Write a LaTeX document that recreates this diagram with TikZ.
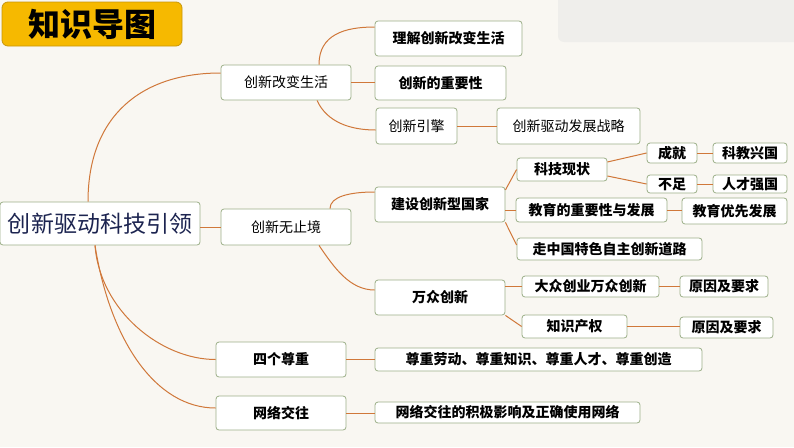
\documentclass[tikz,border=0pt]{standalone}
\usepackage{fontspec}
\setmainfont{Noto Sans CJK SC}
\definecolor{bgc}{RGB}{249,247,242}
\definecolor{grayc}{RGB}{239,238,235}
\definecolor{goldc}{RGB}{246,185,0}
\definecolor{goldline}{RGB}{200,150,10}
\definecolor{boxline}{RGB}{156,175,136}
\definecolor{linkc}{RGB}{208,120,58}
\definecolor{navyc}{RGB}{28,36,80}
\tikzset{
  box/.style={draw=boxline,fill=white,line width=0.8pt,rounded corners=3pt,
    inner sep=0pt,align=center,font=\fontsize{14}{16}\selectfont},
  bbox/.style={box,font=\fontsize{14}{16}\selectfont\bfseries},
  link/.style={draw=linkc,line width=1pt}
}
\begin{document}
\begin{tikzpicture}[x=1pt,y=-1pt,line join=round]
\useasboundingbox (0,0) rectangle (794,447);
\fill[bgc] (0,0) rectangle (794,447);
\fill[grayc,rounded corners=6pt] (558,-8) rectangle (810,42);

% title
\node[draw=goldline,fill=goldc,rounded corners=6pt,line width=0.8pt,minimum width=180pt,minimum height=44pt,
  font=\fontsize{32}{34}\selectfont\bfseries] (title) at (92,24) {知识导图};

% root and first level
\node[box,minimum width=200pt,minimum height=43pt,text=navyc,font=\fontsize{23}{25}\selectfont] (root) at (100,223.5) {创新驱动科技引领};
\node[box,minimum width=130pt,minimum height=35pt] (gai) at (286,82.5) {创新改变生活};
\node[box,minimum width=130pt,minimum height=36pt] (wu) at (286,227) {创新无止境};
\node[bbox,minimum width=130pt,minimum height=35pt] (zun) at (281,359.5) {四个尊重};
\node[bbox,minimum width=130pt,minimum height=34pt] (wang) at (281,413) {网络交往};

% second level
\node[bbox,minimum width=147pt,minimum height=35pt] (lijie) at (448.5,38.5) {理解创新改变生活};
\node[bbox,minimum width=131pt,minimum height=34pt] (zhongyao) at (440.5,83) {创新的重要性};
\node[box,minimum width=81pt,minimum height=36pt] (yinqing) at (416.5,126) {创新引擎};
\node[box,minimum width=143pt,minimum height=36pt] (zhanlue) at (568.5,126) {创新驱动发展战略};
\node[bbox,minimum width=130pt,minimum height=35pt] (jianshe) at (440,204.5) {建设创新型国家};
\node[bbox,minimum width=130pt,minimum height=35pt] (wanzhong) at (440,297.5) {万众创新};
\node[bbox,minimum width=327pt,minimum height=23pt] (laodong) at (538.5,359.5) {尊重劳动、尊重知识、尊重人才、尊重创造};
\node[bbox,minimum width=265pt,minimum height=21pt] (jiji) at (507.5,412.5) {网络交往的积极影响及正确使用网络};

% third level and beyond
\node[bbox,minimum width=90pt,minimum height=23pt] (xianzhuang) at (562,169.5) {科技现状};
\node[bbox,minimum width=50pt,minimum height=20pt] (chengjiu) at (672,153) {成就};
\node[bbox,minimum width=74pt,minimum height=20pt] (kejiao) at (750,153) {科教兴国};
\node[bbox,minimum width=50pt,minimum height=18pt] (buzu) at (672,184) {不足};
\node[bbox,minimum width=74pt,minimum height=18pt] (rencai) at (750,184) {人才强国};
\node[bbox,minimum width=151pt,minimum height=24pt] (jiaoyu) at (591.5,210) {教育的重要性与发展};
\node[bbox,minimum width=105pt,minimum height=26pt] (youxian) at (734.5,211) {教育优先发展};
\node[bbox,minimum width=185pt,minimum height=22pt] (zou) at (609.5,249) {走中国特色自主创新道路};
\node[bbox,minimum width=137pt,minimum height=21pt] (dazhong) at (590.5,286.5) {大众创业万众创新};
\node[bbox,minimum width=88pt,minimum height=21pt] (yuanyin1) at (724,286.5) {原因及要求};
\node[bbox,minimum width=105pt,minimum height=23pt] (zhishi) at (574.5,326.5) {知识产权};
\node[bbox,minimum width=93pt,minimum height=21pt] (yuanyin2) at (726.5,327.5) {原因及要求};

% connectors
\draw[link] ([xshift=-12pt]root.north) .. controls +(0,-85) and +(-80,0) .. ([yshift=9.5pt]gai.west);
\draw[link] (root.east |- wu.west) -- (wu.west);
\draw[link] ([xshift=-5pt]root.south) .. controls +(5,65) and +(-55,0) .. (zun.west);
\draw[link] ([xshift=-5pt]root.south) .. controls +(15,95) and +(-60,0) .. ([yshift=5pt]wang.west);

\draw[link] ([xshift=33pt]gai.north) .. controls +(0,-30) and +(-30,0) .. ([yshift=11.5pt]lijie.west);
\draw[link] (gai.east) -- (gai.east -| zhongyao.west);
\draw[link] ([xshift=31pt]gai.south) .. controls +(10,22) and +(-25,0) .. ([yshift=-4pt]yinqing.west);
\draw[link] (yinqing.east) -- (zhanlue.west);

\draw[link] ([xshift=44pt]wu.north) .. controls +(0,-12) and +(-25,0) .. ([yshift=12.5pt]jianshe.west);
\draw[link] ([xshift=33pt]wu.south) .. controls +(15,22) and +(-25,0) .. ([yshift=7.5pt]wanzhong.west);

\draw[link] ([yshift=14.5pt]jianshe.east) -- (xianzhuang.west);
\draw[link] (jianshe.east |- jiaoyu.west) -- (jiaoyu.west);
\draw[link] (jianshe.south east) -- ([yshift=4pt]zou.west);
\draw[link] ([yshift=7.5pt]xianzhuang.east) -- (chengjiu.west);
\draw[link] ([yshift=-6.5pt]xianzhuang.east) -- (buzu.west);
\draw[link] (chengjiu.east) -- (kejiao.west);
\draw[link] (buzu.east) -- (rencai.west);
\draw[link] (jiaoyu.east) -- (jiaoyu.east -| youxian.west);

\draw[link] (wanzhong.east |- dazhong.west) -- (dazhong.west);
\draw[link] (wanzhong.south east) -- (zhishi.west);
\draw[link] (dazhong.east) -- (yuanyin1.west);
\draw[link] (zhishi.east) -- (zhishi.east -| yuanyin2.west);

\draw[link] (zun.east) -- (laodong.west);
\draw[link] (wang.east) -- (wang.east -| jiji.west);
\end{tikzpicture}
\end{document}
